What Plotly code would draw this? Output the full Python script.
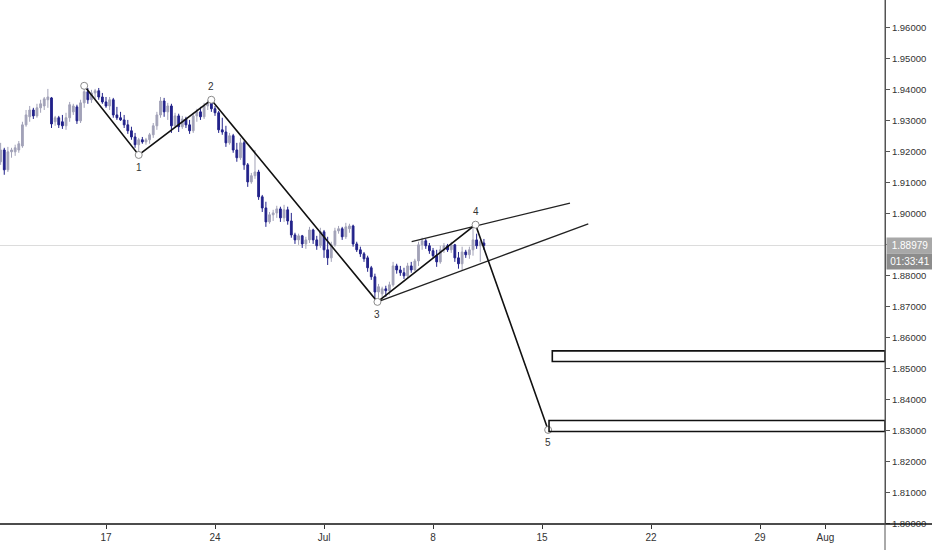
import plotly.graph_objects as go

# ---- data (4h candles, x in trading days from Mon 17 Jun) ----
opens = [1.9168,1.9206,1.9142,1.9200,1.9200,1.9206,1.9219,1.9287,1.9313,1.9335,1.9316,1.9342,1.9348,1.9368,1.9374,1.9297,1.9310,1.9297,1.9284,1.9310,
         1.9329,1.9345,1.9300,1.9358,1.9394,1.9368,1.9390,1.9397,1.9377,1.9361,1.9348,1.9368,1.9319,1.9310,1.9303,1.9287,1.9268,1.9248,1.9223,1.9239,
         1.9232,1.9239,1.9255,1.9284,1.9319,1.9364,1.9329,1.9348,1.9284,1.9316,1.9281,1.9306,1.9287,1.9268,1.9316,1.9329,1.9313,1.9348,1.9358,1.9339,
         1.9326,1.9271,1.9264,1.9229,1.9252,1.9206,1.9181,1.9229,1.9158,1.9103,1.9123,1.9135,1.9055,1.9019,1.8974,1.8997,1.9003,1.9016,1.8987,1.9013,
         1.8977,1.8932,1.8916,1.8929,1.8903,1.8916,1.8948,1.8916,1.8897,1.8942,1.8884,1.8858,1.8900,1.8945,1.8952,1.8926,1.8952,1.8961,1.8903,1.8884,
         1.8871,1.8858,1.8826,1.8797,1.8748,1.8742,1.8758,1.8752,1.8771,1.8832,1.8819,1.8810,1.8800,1.8832,1.8819,1.8848,1.8900,1.8913,1.8897,1.8881,
         1.8865,1.8845,1.8884,1.8897,1.8884,1.8900,1.8858,1.8839,1.8877,1.8868,1.8884,1.8916,1.8897,1.8906]
highs = [1.9229,1.9213,1.9216,1.9213,1.9223,1.9235,1.9297,1.9335,1.9348,1.9342,1.9355,1.9368,1.9377,1.9403,1.9377,1.9316,1.9316,1.9319,1.9326,1.9361,
         1.9355,1.9352,1.9368,1.9413,1.9406,1.9400,1.9403,1.9406,1.9390,1.9377,1.9377,1.9374,1.9345,1.9329,1.9319,1.9303,1.9281,1.9261,1.9245,1.9248,
         1.9245,1.9261,1.9293,1.9329,1.9377,1.9374,1.9358,1.9355,1.9326,1.9323,1.9316,1.9313,1.9303,1.9326,1.9339,1.9345,1.9358,1.9368,1.9361,1.9348,
         1.9332,1.9310,1.9284,1.9261,1.9258,1.9229,1.9245,1.9235,1.9164,1.9132,1.9206,1.9142,1.9061,1.9039,1.9006,1.9013,1.9026,1.9023,1.9029,1.9023,
         1.9003,1.8939,1.8936,1.8932,1.8926,1.8958,1.8952,1.8929,1.8955,1.8948,1.8926,1.8910,1.8955,1.8961,1.8958,1.8971,1.8968,1.8965,1.8910,1.8894,
         1.8877,1.8865,1.8832,1.8807,1.8774,1.8765,1.8768,1.8781,1.8845,1.8839,1.8832,1.8826,1.8842,1.8845,1.8855,1.8910,1.8923,1.8919,1.8906,1.8890,
         1.8884,1.8897,1.8906,1.8903,1.8910,1.8903,1.8877,1.8894,1.8884,1.8894,1.8965,1.8936,1.8916,1.8919]
lows = [1.9158,1.9126,1.9135,1.9181,1.9187,1.9197,1.9213,1.9281,1.9297,1.9306,1.9310,1.9326,1.9335,1.9342,1.9277,1.9284,1.9277,1.9274,1.9271,1.9297,
        1.9319,1.9290,1.9293,1.9342,1.9355,1.9358,1.9371,1.9368,1.9355,1.9342,1.9335,1.9310,1.9303,1.9300,1.9277,1.9258,1.9239,1.9213,1.9190,1.9226,
        1.9223,1.9226,1.9245,1.9271,1.9310,1.9313,1.9303,1.9261,1.9277,1.9264,1.9274,1.9277,1.9258,1.9261,1.9297,1.9303,1.9306,1.9335,1.9329,1.9316,
        1.9261,1.9255,1.9216,1.9223,1.9197,1.9168,1.9174,1.9142,1.9087,1.9097,1.9113,1.9045,1.9006,1.8958,1.8968,1.8977,1.8987,1.8974,1.8974,1.8965,
        1.8923,1.8903,1.8900,1.8890,1.8887,1.8906,1.8903,1.8884,1.8890,1.8858,1.8835,1.8845,1.8894,1.8936,1.8916,1.8919,1.8939,1.8894,1.8877,1.8861,
        1.8845,1.8813,1.8787,1.8716,1.8729,1.8729,1.8732,1.8739,1.8765,1.8807,1.8800,1.8790,1.8794,1.8810,1.8816,1.8832,1.8884,1.8887,1.8871,1.8858,
        1.8829,1.8839,1.8874,1.8877,1.8874,1.8845,1.8823,1.8819,1.8858,1.8855,1.8865,1.8887,1.8845,1.8884]
closes = [1.9206,1.9142,1.9200,1.9206,1.9213,1.9226,1.9287,1.9319,1.9335,1.9316,1.9342,1.9355,1.9371,1.9377,1.9290,1.9310,1.9287,1.9284,1.9310,1.9352,
          1.9348,1.9300,1.9358,1.9394,1.9368,1.9390,1.9397,1.9377,1.9361,1.9348,1.9368,1.9319,1.9310,1.9303,1.9287,1.9268,1.9248,1.9223,1.9239,1.9232,
          1.9239,1.9255,1.9284,1.9319,1.9364,1.9329,1.9348,1.9284,1.9316,1.9281,1.9306,1.9287,1.9268,1.9316,1.9329,1.9313,1.9348,1.9358,1.9339,1.9326,
          1.9271,1.9264,1.9229,1.9252,1.9206,1.9181,1.9229,1.9158,1.9103,1.9123,1.9135,1.9055,1.9019,1.8974,1.8997,1.9003,1.9016,1.8987,1.9013,1.8977,
          1.8932,1.8916,1.8929,1.8903,1.8916,1.8948,1.8916,1.8897,1.8942,1.8884,1.8858,1.8900,1.8945,1.8952,1.8926,1.8958,1.8961,1.8903,1.8884,1.8871,
          1.8855,1.8826,1.8797,1.8748,1.8765,1.8758,1.8752,1.8771,1.8832,1.8819,1.8810,1.8800,1.8832,1.8819,1.8848,1.8900,1.8913,1.8897,1.8881,1.8865,
          1.8845,1.8884,1.8897,1.8884,1.8900,1.8858,1.8839,1.8877,1.8868,1.8884,1.8916,1.8897,1.8910,1.88979]

candle_start_day = -5.0 + 1 / 6.0   # first 4h candle (Mon 10 Jun 04:00)
candle_step_day = 1 / 6.0           # 4 hours
candle_x = [candle_start_day + i * candle_step_day for i in range(len(closes))]

wave_days = [-1.0, 1.5, 4.83, 12.45, 16.95, 20.28]
wave_prices = [1.9413, 1.9190, 1.9368, 1.8716, 1.8965, 1.8303]
wave_labels = ["", "1", "2", "3", "4", "5"]
wave_label_above = [True, False, True, False, True, False]

channel_upper = {"days": [14.02, 21.28], "prices": [1.89106, 1.90345]}
channel_lower = {"days": [12.45, 22.12], "prices": [1.87161, 1.89677]}

zone_upper = {"start": 20.47, "top": 1.8558, "bottom": 1.85235}
zone_lower = {"start": 20.32, "top": 1.83332, "bottom": 1.82977}

last_price = 1.88979
countdown = "01:33:41"

tick_days = [0, 5, 10, 15, 20, 25, 30, 33]
tick_text = ["17", "24", "Jul", "8", "15", "22", "29", "Aug"]

x_range = [-4.862, 35.73]
y_range = [1.79995, 1.96898]

UP = "#a2a2b8"
DOWN = "#22228a"
FONT = "Liberation Sans, Arial, sans-serif"

fig = go.Figure()

fig.add_trace(go.Candlestick(
    x=candle_x, open=opens, high=highs, low=lows, close=closes,
    increasing=dict(line=dict(color=UP, width=1), fillcolor=UP),
    decreasing=dict(line=dict(color=DOWN, width=1), fillcolor=DOWN),
    whiskerwidth=0, hoverinfo="skip", showlegend=False,
))

# channel lines
for ch in (channel_upper, channel_lower):
    fig.add_trace(go.Scatter(x=ch["days"], y=ch["prices"], mode="lines",
                             line=dict(color="#222222", width=1.3),
                             hoverinfo="skip", showlegend=False))

# wave path
fig.add_trace(go.Scatter(x=wave_days, y=wave_prices, mode="lines",
                         line=dict(color="#111111", width=1.6),
                         hoverinfo="skip", showlegend=False))
fig.add_trace(go.Scatter(x=wave_days, y=wave_prices, mode="markers",
                         marker=dict(symbol="circle", size=7, color="white",
                                     line=dict(color="#8a8a8a", width=1)),
                         hoverinfo="skip", showlegend=False))

shapes = []
# last price line
shapes.append(dict(type="line", xref="paper", x0=0, x1=1, yref="y",
                   y0=last_price, y1=last_price, layer="below",
                   line=dict(color="#dcdcdc", width=1)))
# target zones
for z in (zone_upper, zone_lower):
    shapes.append(dict(type="rect", xref="x", yref="y", x0=z["start"], x1=x_range[1],
                       y0=z["bottom"], y1=z["top"], fillcolor="rgba(255,255,255,0)",
                       line=dict(color="#111111", width=1.6)))
# bottom axis line across full width
shapes.append(dict(type="line", xref="paper", yref="paper", x0=0, x1=1.06, y0=0, y1=0,
                   line=dict(color="#111111", width=1.5)))
# right axis line down to bottom edge
shapes.append(dict(type="line", xref="paper", yref="paper", x0=1, x1=1, y0=-0.06, y1=1,
                   line=dict(color="#555555", width=1)))

annotations = []
for d, p, t, above in zip(wave_days, wave_prices, wave_labels, wave_label_above):
    if not t:
        continue
    annotations.append(dict(x=d, y=p, xref="x", yref="y", text=t, showarrow=False,
                            yshift=13 if above else -13,
                            font=dict(family=FONT, size=10, color="#333333")))
annotations.append(dict(x=1, y=last_price, xref="paper", yref="y", text=f"{last_price:.5f}",
                        showarrow=False, xanchor="left", xshift=1, width=44, height=13,
                        bgcolor="#a8a8a8", borderpad=1,
                        font=dict(family=FONT, size=10, color="white")))
annotations.append(dict(x=1, y=last_price, xref="paper", yref="y", text=countdown,
                        showarrow=False, xanchor="left", xshift=1, yshift=-16, width=44, height=13,
                        bgcolor="#8c8c8c", borderpad=1,
                        font=dict(family=FONT, size=10, color="white")))

fig.update_layout(
    width=932, height=550,
    margin=dict(l=0, r=47, t=0, b=26),
    paper_bgcolor="white", plot_bgcolor="white",
    showlegend=False,
    shapes=shapes, annotations=annotations,
    font=dict(family=FONT),
    xaxis=dict(range=x_range, rangeslider=dict(visible=False), showgrid=False, zeroline=False,
               showline=False, ticks="outside", ticklen=4, tickcolor="#333333",
               tickvals=tick_days, ticktext=tick_text,
               tickfont=dict(family=FONT, size=10, color="#333333")),
    yaxis=dict(range=y_range, side="right", showgrid=False, zeroline=False,
               showline=True, linecolor="#555555", linewidth=1,
               ticks="outside", ticklen=4, tickcolor="#555555",
               tick0=1.8, dtick=0.01, tickformat=".5f",
               tickfont=dict(family=FONT, size=9.5, color="#333333")),
)

fig.write_html("out.html", config={"displayModeBar": False},
               post_script="document.body.style.margin='0';document.body.style.overflow='hidden';")
